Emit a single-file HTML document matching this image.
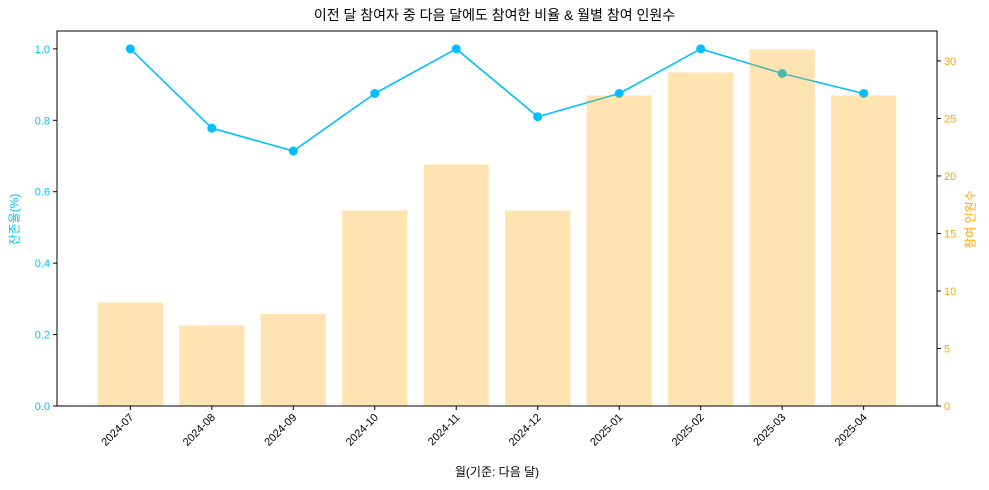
<!DOCTYPE html>
<html><head><meta charset="utf-8">
<style>
html,body{margin:0;padding:0;background:#fff;}
svg{display:block;font-family:"Liberation Sans","Noto Sans CJK KR",sans-serif;}
</style></head>
<body>
<svg id="chart" width="989" height="490"></svg>
<script>
const categories = ["2024-07","2024-08","2024-09","2024-10","2024-11","2024-12","2025-01","2025-02","2025-03","2025-04"];
const retentionValues = [1.0,0.778,0.714,0.875,1.0,0.81,0.875,1.0,0.931,0.875];
const participantCounts = [9,7,8,17,21,17,27,29,31,27];
const leftTicks = [0,0.2,0.4,0.6,0.8,1.0];
const rightTicks = [0,5,10,15,20,25,30];

const NS="http://www.w3.org/2000/svg";
const svg=document.getElementById('chart');
const L=57,R=937,T=31,B=406;
const xScale=i=>L+(i+0.9)*(R-L)/(categories.length-1+1.8);
const bw=(R-L)/(categories.length-1+1.8)*0.8;
const yL=v=>B-v/1.05*(B-T);
const yR=v=>B-v/32.6*(B-T);
function mk(tag,attrs,parent){const e=document.createElementNS(NS,tag);for(const k in attrs)e.setAttribute(k,attrs[k]);(parent||svg).appendChild(e);return e;}
function txt(s,attrs){const e=mk('text',attrs);e.textContent=s;return e;}

// line
const pts=retentionValues.map((v,i)=>xScale(i)+','+yL(v)).join(' ');
const line=mk('polyline',{points:pts,fill:'none',stroke:'#00bfff','stroke-width':1.6});


retentionValues.forEach((v,i)=>{
  const c=mk('circle',{cx:xScale(i),cy:yL(v),r:4.5,fill:'#00bfff'});
  
  
});
// bars (drawn over line, semi-transparent)
participantCounts.forEach((v,i)=>{
  const r=mk('rect',{x:xScale(i)-bw/2,y:yR(v),width:bw,height:B-yR(v),fill:'orange','fill-opacity':0.3});
  
  
});
// frame
const fr=mk('rect',{x:L,y:T,width:R-L,height:B-T,fill:'none',stroke:'#000','stroke-width':1});


// left ticks
leftTicks.forEach(v=>{
  const y=yL(v);
  mk('line',{x1:L-4,x2:L,y1:y,y2:y,stroke:'#000'});
  const t=txt(v.toFixed(1),{x:L-7,y:y+4,'text-anchor':'end','font-size':11,fill:'#00bfff'});
  
  
});
rightTicks.forEach(v=>{
  const y=yR(v);
  mk('line',{x1:R,x2:R+4,y1:y,y2:y,stroke:'#000'});
  const t=txt(String(v),{x:R+7,y:y+4,'text-anchor':'start','font-size':11,fill:'orange'});
  
  
});
categories.forEach((c,i)=>{
  const x=xScale(i);
  mk('line',{x1:x,x2:x,y1:B,y2:B+4,stroke:'#000'});
  const t=txt(c,{x:x+4,y:B+12,'text-anchor':'end','font-size':11,fill:'#000',transform:`rotate(-45 ${x+4} ${B+12})`});
  
  
});
</script>
<svg width="0" height="0"></svg>
<div style="position:absolute;left:0;top:0;width:989px;height:490px;pointer-events:none;font-family:'Liberation Sans','Noto Sans CJK KR',sans-serif;">
  <div style="position:absolute;left:0;width:989px;top:5px;text-align:center;font-size:14px;color:#000;">이전 달 참여자 중 다음 달에도 참여한 비율 &amp; 월별 참여 인원수</div>
  <div style="position:absolute;left:297px;width:400px;top:463px;text-align:center;font-size:12px;color:#000;">월(기준: 다음 달)</div>
  <div style="position:absolute;left:-36px;top:211px;width:100px;text-align:center;font-size:12px;color:#00bfff;transform:rotate(-90deg);">잔존율(%)</div>
  <div style="position:absolute;left:920px;top:211px;width:100px;text-align:center;font-size:12px;color:orange;transform:rotate(-90deg);">참여 인원수</div>
</div>
</body></html>
